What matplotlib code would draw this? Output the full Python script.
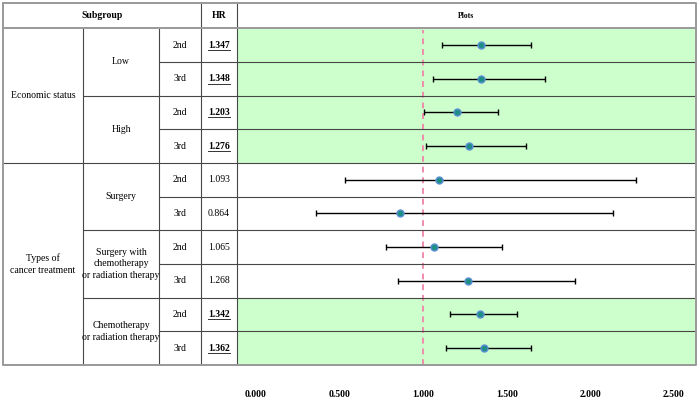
import matplotlib
matplotlib.use("Agg")
import matplotlib.pyplot as plt

# ---- data ----
level1 = ["Economic status", "Types of\ncancer treatment"]
level1_span = [(0, 4), (4, 10)]
level2 = ["Low", "High", "Surgery", "Surgery with\nchemotherapy\nor radiation therapy",
          "Chemotherapy\nor radiation therapy"]
level2_span = [(0, 2), (2, 4), (4, 6), (6, 8), (8, 10)]
level3 = ["2nd", "3rd"] * 5
hr = [1.347, 1.348, 1.203, 1.276, 1.093, 0.864, 1.065, 1.268, 1.342, 1.362]
ci_low = [1.112, 1.057, 1.006, 1.017, 0.532, 0.357, 0.776, 0.851, 1.162, 1.136]
ci_high = [1.645, 1.730, 1.449, 1.615, 2.271, 2.137, 1.473, 1.908, 1.559, 1.645]
significant = [True, True, True, True, False, False, False, False, True, True]
xticks = [0.0, 0.5, 1.0, 1.5, 2.0, 2.5]

# ---- layout (pixels) ----
W, H = 699, 400
X0, X1, X2, X3, X4, X5 = 3, 83, 159, 201, 237, 696
Y_TOP, Y_HEAD, Y_BOT = 3, 28.3, 365
n = len(hr)
row_h = (Y_BOT - Y_HEAD) / n

FONT = "Liberation Serif"
FS = 7
GREEN = "#ccffcc"
INNER = "#474747"
OUTER = "#999999"

fig = plt.figure(figsize=(W / 100, H / 100), dpi=100)


def fx(px):
    return px / W


def fy(py):
    return 1 - py / H


# forest plot axes in the "Plots" column
ax = fig.add_axes([fx(X4), fy(Y_BOT), fx(X5) - fx(X4), fy(Y_HEAD) - fy(Y_BOT)])
ax.set_xlim((X4 - 256) / 167.2, (X5 - 256) / 167.2)
ax.set_ylim(n, 0)
ax.patch.set_alpha(0)
for s in ax.spines.values():
    s.set_visible(False)
ax.set_yticks([])
for i in range(n):
    if significant[i]:
        ax.axhspan(i, i + 1, color=GREEN, lw=0, zorder=0)
ax.axvline(1.0, color="#f08cae", lw=1.4, dashes=(3, 2.5), ymax=0.995, zorder=1)
ys = [i + 0.5 for i in range(n)]
ax.errorbar(hr, ys, xerr=[[h - lo for h, lo in zip(hr, ci_low)],
                          [hi - h for h, hi in zip(hr, ci_high)]],
            fmt="none", ecolor="black", elinewidth=1.0, capsize=2.2, capthick=1.0, zorder=2)
ax.plot(hr, ys, "o", ms=5, mfc="#1f8f86", mec="#5b8fd6", mew=1.0, zorder=3)
ax.set_xticks(xticks)
ax.set_xticklabels([f"{t:.3f}" for t in xticks], fontfamily=FONT, fontsize=FS, fontweight="bold")
ax.tick_params(axis="x", length=0, pad=18)

# table overlay in pixel coordinates
tb = fig.add_axes([0, 0, 1, 1])
tb.set_xlim(0, W)
tb.set_ylim(H, 0)
tb.axis("off")
tb.patch.set_alpha(0)


def hline(y, xa, xb, c=INNER, lw=0.8):
    tb.plot([xa, xb], [y, y], color=c, lw=lw, solid_capstyle="butt")


def vline(x, ya, yb, c=INNER, lw=0.8):
    tb.plot([x, x], [ya, yb], color=c, lw=lw, solid_capstyle="butt")


# inner lines
for i in range(1, n):
    y = Y_HEAD + i * row_h
    hline(y, X2, X5)
for a, b in level2_span[:-1]:
    hline(Y_HEAD + b * row_h, X1, X2)
for a, b in level1_span[:-1]:
    hline(Y_HEAD + b * row_h, X0, X1)
for x in (X1, X2):
    vline(x, Y_HEAD, Y_BOT)
for x in (X3, X4):
    vline(x, Y_TOP, Y_BOT)
# outer frame and header line
hline(Y_HEAD, X0, X5, c=OUTER, lw=1.4)
tb.plot([X0, X5, X5, X0, X0], [Y_TOP, Y_TOP, Y_BOT, Y_BOT, Y_TOP], color=OUTER, lw=1.4)

txt = dict(ha="center", va="center", fontfamily=FONT, fontsize=FS)
tb.text((X0 + X3) / 2, (Y_TOP + Y_HEAD) / 2, "Subgroup", fontweight="bold", **txt)
tb.text((X3 + X4) / 2, (Y_TOP + Y_HEAD) / 2, "HR", fontweight="bold", **txt)
tb.text((X4 + X5) / 2, (Y_TOP + Y_HEAD) / 2, "Plots", fontweight="bold",
        ha="center", va="center", fontfamily=FONT, fontsize=5.5)

for label, (a, b) in zip(level1, level1_span):
    tb.text((X0 + X1) / 2, Y_HEAD + (a + b) / 2 * row_h, label, linespacing=1.4, **txt)
for label, (a, b) in zip(level2, level2_span):
    tb.text((X1 + X2) / 2, Y_HEAD + (a + b) / 2 * row_h, label, linespacing=1.4, **txt)

hr_texts = []
for i in range(n):
    yc = Y_HEAD + (i + 0.5) * row_h
    tb.text((X2 + X3) / 2, yc, level3[i], **txt)
    t = tb.text((X3 + X4) / 2, yc, f"{hr[i]:.3f}",
                fontweight="bold" if significant[i] else "normal", **txt)
    if significant[i]:
        hr_texts.append(t)

# underline the significant HR values
fig.canvas.draw()
inv = tb.transData.inverted()
for t in hr_texts:
    bb = t.get_window_extent()
    (xa, yb), (xb, ya) = inv.transform([[bb.x0, bb.y0], [bb.x1, bb.y1]])
    tb.plot([xa, xb], [yb + 0.3, yb + 0.3], color="#333333", lw=0.7)

fig.savefig("out.png", dpi=100)
